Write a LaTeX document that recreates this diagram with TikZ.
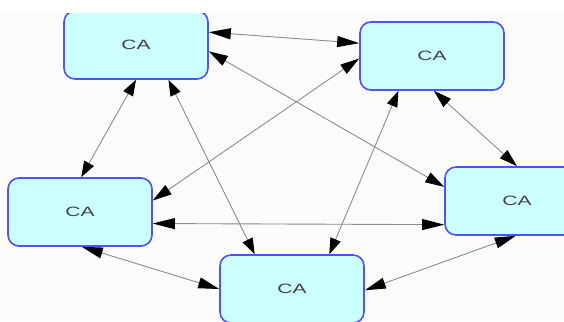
\documentclass[tikz,border=0pt]{standalone}
\usepackage{fontspec}
\setmainfont{Liberation Sans}
\usetikzlibrary{arrows.meta}

\definecolor{cafill}{HTML}{CCFFFF}
\definecolor{caline}{HTML}{5050FF}
\definecolor{linkgray}{HTML}{8C8C8C}
\definecolor{textgray}{HTML}{404040}
\definecolor{paper}{HTML}{FBFBFB}

\tikzset{
    ca/.style={draw=caline, line width=1.6pt, fill=cafill, rounded corners=11pt,
        minimum width=144pt, minimum height=68pt, inner sep=0pt,
        text=textgray, font=\fontsize{13.5}{15}\selectfont},
    link/.style={draw=linkgray, line width=0.9pt,
        {Triangle[length=#1,width=11pt,color=black]}-{Triangle[length=#1,width=11pt,color=black]}}
}

\newcommand{\calabel}{\scalebox{1.55}[1]{CA}}

\begin{document}
\begin{tikzpicture}[x=1pt,y=-1pt]

\useasboundingbox (0,0) rectangle (564,321);
\clip (0,0) rectangle (564,321);

% Draw the background
\fill[paper] (0,13) rectangle (564,321);

% Draw the five nodes
\node[ca] (A) at (136,45)  {\calabel};
\node[ca] (B) at (432,56)  {\calabel};
\node[ca] (C) at (80,212)  {\calabel};
\node[ca] (D) at (292,289) {\calabel};
\node[ca] (E) at (517,201) {\calabel};

% White strip along the top edge
\fill[white] (0,0) rectangle (564,13);

% Draw the links between every pair of nodes
\foreach \a/\p/\b/\q/\l in {A/10/B/170/22, A/-5/E/169/19, A/-90/C/88/16, A/-47/D/137/16,
    B/-178/C/9/19, B/-134/D/43/16, B/-87/E/90/18,
    C/-9/E/-162/22, C/-87/D/180/21, D/-1/E/-92/21} {
    \draw[link=\l pt] (\a.\p) -- (\b.\q);
}

\end{tikzpicture}
\end{document}
